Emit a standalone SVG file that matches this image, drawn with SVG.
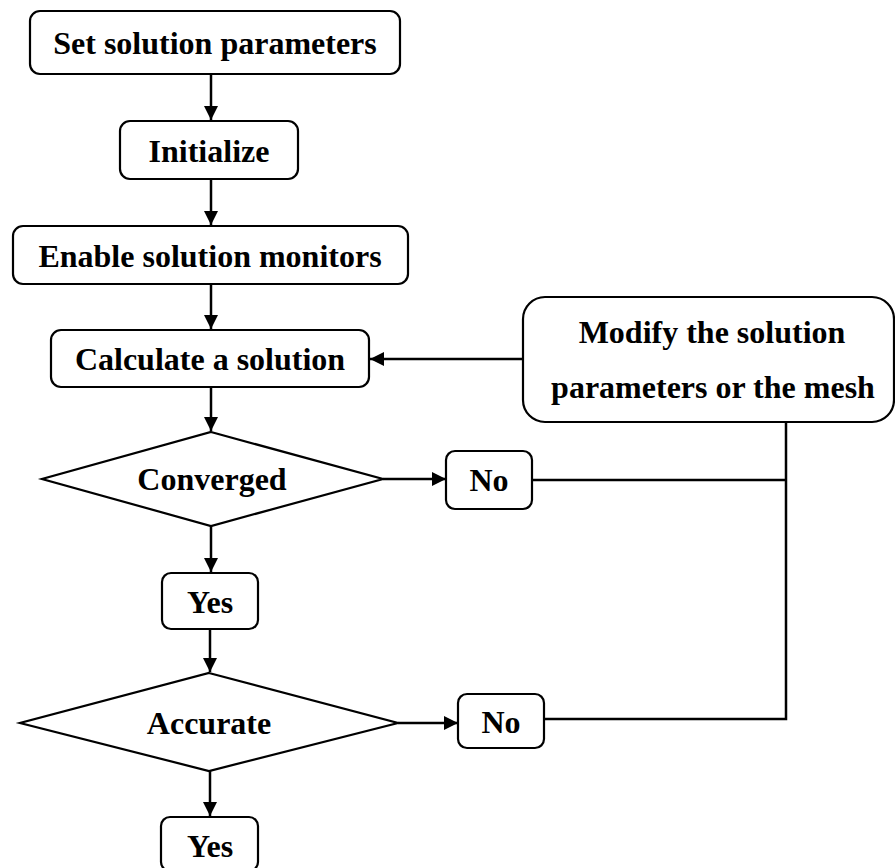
<svg xmlns="http://www.w3.org/2000/svg" width="895" height="868" viewBox="0 0 895 868">
<style>
.box{fill:#fff;stroke:#000;stroke-width:2.2}
.t{font-family:"Liberation Serif","Times New Roman",serif;font-weight:bold;font-size:32px;text-anchor:middle;fill:#000}
.c{fill:none;stroke:#000;stroke-width:2.5}
</style>
<defs>
<marker id="ah" markerUnits="userSpaceOnUse" markerWidth="15" markerHeight="15" refX="14" refY="7" orient="auto">
<path d="M0,0 L14,7 L0,14 z" fill="#000"/>
</marker>
</defs>
<rect width="895" height="868" fill="#fff"/>
<g id="connectors">
<line class="c" x1="211" y1="74" x2="211" y2="120" marker-end="url(#ah)"/>
<line class="c" x1="211" y1="179" x2="211" y2="225" marker-end="url(#ah)"/>
<line class="c" x1="211" y1="284" x2="211" y2="329" marker-end="url(#ah)"/>
<line class="c" x1="211" y1="387" x2="211" y2="431" marker-end="url(#ah)"/>
<line class="c" x1="383" y1="479" x2="446" y2="479" marker-end="url(#ah)"/>
<line class="c" x1="211" y1="526" x2="211" y2="572" marker-end="url(#ah)"/>
<line class="c" x1="210" y1="629" x2="210" y2="672" marker-end="url(#ah)"/>
<line class="c" x1="398" y1="723" x2="458" y2="723" marker-end="url(#ah)"/>
<line class="c" x1="210" y1="771" x2="210" y2="816" marker-end="url(#ah)"/>
<line class="c" x1="523" y1="359" x2="370" y2="359" marker-end="url(#ah)"/>
<line class="c" x1="532" y1="480" x2="787" y2="480"/>
<polyline class="c" points="786,422 786,719 544,719"/>
</g>
<g id="set-params">
<rect class="box" x="30" y="11" width="370" height="63" rx="10"/>
<text class="t" x="215" y="54">Set solution parameters</text>
</g>
<g id="initialize">
<rect class="box" x="120" y="121" width="178" height="58" rx="10"/>
<text class="t" x="209" y="162">Initialize</text>
</g>
<g id="enable-monitors">
<rect class="box" x="13" y="226" width="395" height="58" rx="10"/>
<text class="t" x="210" y="267">Enable solution monitors</text>
</g>
<g id="calculate">
<rect class="box" x="51" y="330" width="318" height="57" rx="10"/>
<text class="t" x="210" y="370">Calculate a solution</text>
</g>
<g id="modify">
<rect class="box" x="523" y="297" width="371" height="125" rx="22"/>
<text class="t" x="712" y="343">Modify the solution</text>
<text class="t" x="713" y="398">parameters or the mesh</text>
</g>
<g id="converged">
<polygon class="box" points="211,432 383,479 211,526 42,479"/>
<text class="t" x="212" y="490">Converged</text>
</g>
<g id="no1">
<rect class="box" x="446" y="451" width="86" height="58" rx="9"/>
<text class="t" x="489" y="491">No</text>
</g>
<g id="yes1">
<rect class="box" x="162" y="573" width="96" height="56" rx="9"/>
<text class="t" x="210" y="613">Yes</text>
</g>
<g id="accurate">
<polygon class="box" points="209,673 398,723 209,771 20,723"/>
<text class="t" x="209" y="734">Accurate</text>
</g>
<g id="no2">
<rect class="box" x="458" y="694" width="86" height="54" rx="9"/>
<text class="t" x="501" y="733">No</text>
</g>
<g id="yes2">
<rect class="box" x="161" y="817" width="97" height="54" rx="9"/>
<text class="t" x="210" y="857">Yes</text>
</g>
</svg>
